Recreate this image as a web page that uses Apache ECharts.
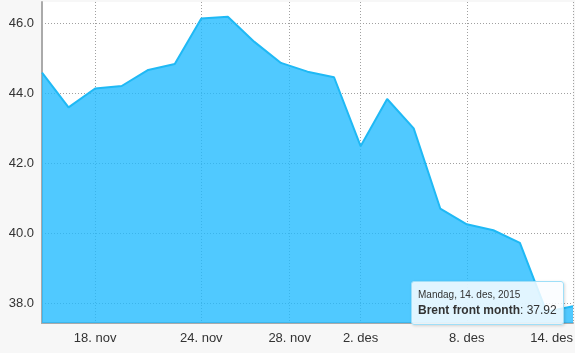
<!DOCTYPE html>
<html>
<head>
<meta charset="utf-8">
<script src="https://cdn.jsdelivr.net/npm/echarts@6/dist/echarts.min.js"></script>
<style>
  html, body { margin: 0; padding: 0; background: #f7f7f7; }
  #chart { width: 575px; height: 353px; }
</style>
</head>
<body>
<div id="chart"></div>
<script>
// trading days, 16 nov - 14 des 2015
const dates = [
    '16. nov', '17. nov', '18. nov', '19. nov', '20. nov', '23. nov', '24. nov',
    '25. nov', '26. nov', '27. nov', '30. nov', '1. des', '2. des', '3. des',
    '4. des', '7. des', '8. des', '9. des', '10. des', '11. des', '14. des'
];
const brent = [
    44.59, 43.60, 44.14, 44.21, 44.67, 44.84, 46.14,
    46.19, 45.47, 44.87, 44.62, 44.46, 42.49, 43.84,
    43.00, 40.71, 40.26, 40.09, 39.73, 37.76, 37.92
];
// x ticks sit on the ordinal (trading-day) scale, 28. nov falls between 27 and 30 nov
const xTickPositions = [2, 6, 9.33, 12, 16, 20];
const xTickLabels = ['18. nov', '24. nov', '28. nov', '2. des', '8. des', '14. des'];
const yTicks = [38, 40, 42, 44, 46];

const chart = echarts.init(document.getElementById('chart'));

const gridLine = { show: true, lineStyle: { color: '#a0a0a0', type: [1, 2], width: 1 } };

const option = {
    animation: false,
    backgroundColor: '#f7f7f7',
    textStyle: { fontFamily: 'Liberation Sans, Helvetica, Arial, sans-serif' },
    grid: {
        left: 42, right: 2, top: 2, bottom: 30,
        outerBoundsMode: 'none',
        containLabel: false,
        show: true, backgroundColor: '#fff', borderWidth: 0
    },
    xAxis: {
        type: 'value',
        min: 0,
        max: dates.length - 1,
        axisLine: { show: true, lineStyle: { color: '#aaaaaa', width: 2 } },
        axisTick: { show: false, customValues: xTickPositions },
        axisLabel: {
            customValues: xTickPositions,
            color: '#333',
            fontSize: 13,
            margin: 9,
            hideOverlap: false,
            alignMaxLabel: 'right',
            formatter: v => xTickLabels[xTickPositions.indexOf(v)] || ''
        },
        splitLine: gridLine
    },
    yAxis: {
        type: 'value',
        min: 37.44,
        max: 46.61,
        axisLine: { show: true, lineStyle: { color: '#aaaaaa', width: 2 } },
        axisTick: { show: false, customValues: yTicks },
        axisLabel: {
            customValues: yTicks,
            color: '#333',
            fontSize: 13,
            margin: 8,
            formatter: v => v.toFixed(1)
        },
        splitLine: gridLine
    },
    tooltip: {
        trigger: 'axis',
        axisPointer: { type: 'none' },
        alwaysShowContent: true,
        transitionDuration: 0,
        position: [411, 281],
        backgroundColor: 'rgba(250, 253, 255, 0.85)',
        borderColor: '#9fdff8',
        borderWidth: 1,
        borderRadius: 3,
        padding: [6, 6],
        extraCssText: 'box-shadow: 1px 1px 3px rgba(0,0,0,0.15);',
        formatter: params => {
            const p = params[0];
            return '<div style="font-size:10px;color:#333;line-height:14px">Mandag, ' +
                dates[p.dataIndex] + ', 2015</div>' +
                '<div style="font-size:12px;color:#333;line-height:16px">' +
                '<b>Brent front month</b>: ' + brent[p.dataIndex].toFixed(2) + '</div>';
        }
    },
    series: [{
        name: 'Brent front month',
        type: 'line',
        data: brent.map((v, i) => [i, v]),
        symbol: 'none',
        lineStyle: { color: '#1fb9f5', width: 2 },
        areaStyle: { color: '#1fbaff', opacity: 0.78 },
        emphasis: { disabled: true },
        z: 3
    }]
};

chart.setOption(option);
chart.dispatchAction({ type: 'showTip', seriesIndex: 0, dataIndex: dates.length - 1 });
</script>
</body>
</html>
